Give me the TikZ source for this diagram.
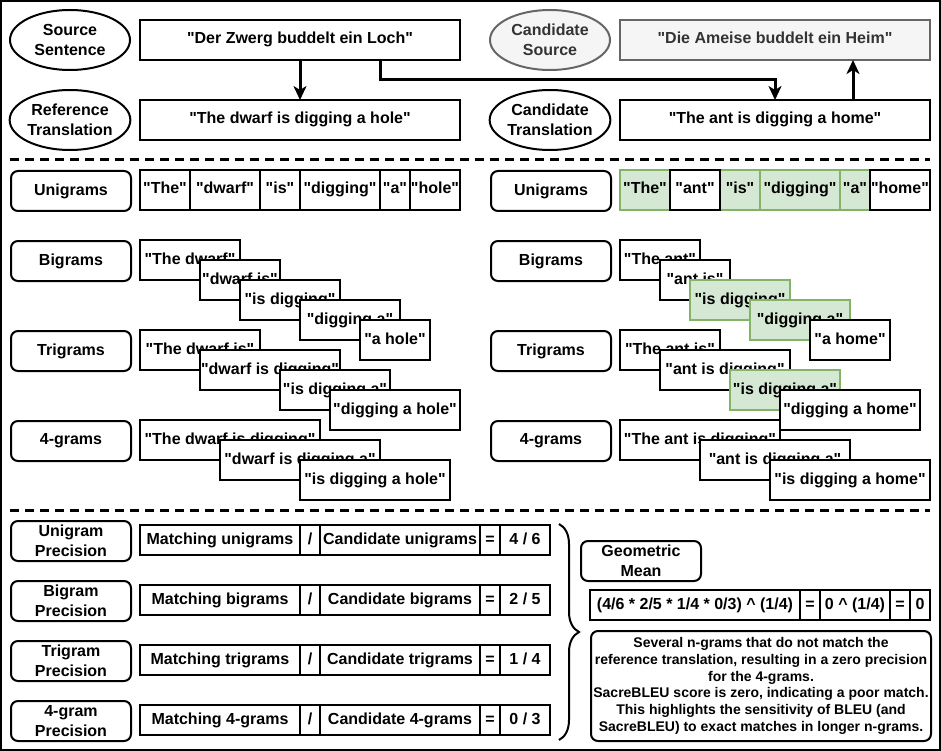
\documentclass[tikz,border=0pt]{standalone}
\usepackage{fontspec}
\setmainfont{Liberation Sans}[Ligatures=TeXOff]
\usetikzlibrary{arrows.meta,positioning,shapes.geometric,decorations.pathreplacing}
\definecolor{matchfill}{HTML}{D5E8D4}
\definecolor{matchdraw}{HTML}{82B366}
\definecolor{greyfill}{HTML}{F5F5F5}
\definecolor{greydraw}{HTML}{666666}
\definecolor{greytext}{HTML}{333333}
\tikzset{
txt/.style={font=\bfseries\fontsize{16}{19.5}\selectfont},
sentence/.style={txt,draw,ellipse,minimum width=120pt,minimum height=60pt,inner sep=0pt,align=center},
textbox/.style={txt,draw,fill=white,minimum height=40pt,inner sep=0pt,outer sep=0pt,anchor=north west,text height=11.5pt,text depth=3.5pt},
gram/.style={textbox},
match/.style={fill=matchfill,draw=matchdraw},
greyed/.style={fill=greyfill,draw=greydraw,text=greytext},
ngramlabel/.style={txt,draw,fill=white,rounded corners=7pt,minimum width=120pt,minimum height=40pt,inner sep=0pt,anchor=north west,align=center},
cell/.style={textbox,minimum height=30pt},
note/.style={draw,rounded corners=7pt,minimum width=340pt,minimum height=110pt,inner sep=0pt,anchor=north west,align=center,font=\bfseries\fontsize{14}{16.8}\selectfont},
flow/.style={-{Stealth[length=14pt,width=13pt,inset=4pt]},line width=3pt},
divider/.style={line width=3pt,dash pattern=on 9pt off 6pt}
}
\begin{document}
\begin{tikzpicture}[x=1pt,y=-1pt,line width=2pt]
\useasboundingbox (0,0) rectangle (941,751);
\draw (1,1) rectangle (940,750);

% sentences
\node[sentence] (srclabel) at (70,40) {Source\\Sentence};
\node[textbox,minimum width=320pt] (srcbox) at (140,20) {"Der Zwerg buddelt ein Loch"};
\node[sentence] (reflabel) at (70,120) {Reference\\Translation};
\node[textbox,minimum width=320pt] (refbox) at (140,100) {"The dwarf is digging a hole"};
\node[sentence,greyed] (candsrclabel) at (550,40) {Candidate\\Source};
\node[textbox,greyed,minimum width=310pt] (candsrcbox) at (620,20) {"Die Ameise buddelt ein Heim"};
\node[sentence] (candlabel) at (550,120) {Candidate\\Translation};
\node[textbox,minimum width=310pt] (candbox) at (620,100) {"The ant is digging a home"};
\draw[flow] (srcbox) -- (refbox);
\draw[flow] ([xshift=80pt]srcbox.south) -- ++(0,20) -| (candbox);
\draw[flow] ([xshift=78pt]candbox.north) -- ([xshift=78pt]candsrcbox.south);

\draw[divider] (10,160) -- (930,160);

% n-grams of the reference
\node[ngramlabel] (runi) at (10,170) {Unigrams};
\node[gram,minimum width=50pt] (ru1) at (140,170) {"The"};
\node[gram,minimum width=70pt] (ru2) at (190,170) {"dwarf"};
\node[gram,minimum width=40pt] (ru3) at (260,170) {"is"};
\node[gram,minimum width=80pt] (ru4) at (300,170) {"digging"};
\node[gram,minimum width=30pt] (ru5) at (380,170) {"a"};
\node[gram,minimum width=50pt] (ru6) at (410,170) {"hole"};

\node[ngramlabel] (rbig) at (10,240) {Bigrams};
\node[gram,minimum width=100pt] (rb1) at (140,240) {"The dwarf"};
\node[gram,minimum width=80pt] (rb2) at (200,260) {"dwarf is"};
\node[gram,minimum width=100pt] (rb3) at (240,280) {"is digging"};
\node[gram,minimum width=100pt] (rb4) at (300,300) {"digging a"};
\node[gram,minimum width=70pt] (rb5) at (360,320) {"a hole"};

\node[ngramlabel] (rtri) at (10,330) {Trigrams};
\node[gram,minimum width=120pt] (rt1) at (140,330) {"The dwarf is"};
\node[gram,minimum width=140pt] (rt2) at (200,350) {"dwarf is digging"};
\node[gram,minimum width=110pt] (rt3) at (280,370) {"is digging a"};
\node[gram,minimum width=130pt] (rt4) at (330,390) {"digging a hole"};

\node[ngramlabel] (rfour) at (10,420) {4-grams};
\node[gram,minimum width=180pt] (rq1) at (140,420) {"The dwarf is digging"};
\node[gram,minimum width=160pt] (rq2) at (220,440) {"dwarf is digging a"};
\node[gram,minimum width=150pt] (rq3) at (300,460) {"is digging a hole"};

% n-grams of the candidate
\node[ngramlabel] (cuni) at (490,170) {Unigrams};
\node[gram,match,minimum width=50pt] (cu1) at (620,170) {"The"};
\node[gram,match,minimum width=40pt] (cu3) at (720,170) {"is"};
\node[gram,match,minimum width=80pt] (cu4) at (760,170) {"digging"};
\node[gram,match,minimum width=30pt] (cu5) at (840,170) {"a"};
\node[gram,minimum width=50pt] (cu2) at (670,170) {"ant"};
\node[gram,minimum width=60pt] (cu6) at (870,170) {"home"};

\node[ngramlabel] (cbig) at (490,240) {Bigrams};
\node[gram,minimum width=80pt] (cb1) at (620,240) {"The ant"};
\node[gram,minimum width=70pt] (cb2) at (660,260) {"ant is"};
\node[gram,match,minimum width=100pt] (cb3) at (690,280) {"is digging"};
\node[gram,match,minimum width=100pt] (cb4) at (750,300) {"digging a"};
\node[gram,minimum width=80pt] (cb5) at (810,320) {"a home"};

\node[ngramlabel] (ctri) at (490,330) {Trigrams};
\node[gram,minimum width=100pt] (ct1) at (620,330) {"The ant is"};
\node[gram,minimum width=130pt] (ct2) at (660,350) {"ant is digging"};
\node[gram,match,minimum width=110pt] (ct3) at (730,370) {"is digging a"};
\node[gram,minimum width=140pt] (ct4) at (780,390) {"digging a home"};

\node[ngramlabel] (cfour) at (490,420) {4-grams};
\node[gram,minimum width=160pt] (cq1) at (620,420) {"The ant is digging"};
\node[gram,minimum width=150pt] (cq2) at (700,440) {"ant is digging a"};
\node[gram,minimum width=160pt] (cq3) at (770,460) {"is digging a home"};

\draw[divider] (10,510) -- (930,510);

% precisions
\node[ngramlabel] (unip) at (10,520) {Unigram\\Precision};
\node[cell,minimum width=160pt] (unimatch) at (140,525) {Matching unigrams};
\node[cell,minimum width=20pt,right=0pt of unimatch] (unidiv) {/};
\node[cell,minimum width=160pt,right=0pt of unidiv] (unicand) {Candidate unigrams};
\node[cell,minimum width=20pt,right=0pt of unicand] (unieq) {=};
\node[cell,minimum width=50pt,right=0pt of unieq] (unival) {4 / 6};

\node[ngramlabel] (bip) at (10,580) {Bigram\\Precision};
\node[cell,minimum width=160pt] (bimatch) at (140,585) {Matching bigrams};
\node[cell,minimum width=20pt,right=0pt of bimatch] (bidiv) {/};
\node[cell,minimum width=160pt,right=0pt of bidiv] (bicand) {Candidate bigrams};
\node[cell,minimum width=20pt,right=0pt of bicand] (bieq) {=};
\node[cell,minimum width=50pt,right=0pt of bieq] (bival) {2 / 5};

\node[ngramlabel] (trip) at (10,640) {Trigram\\Precision};
\node[cell,minimum width=160pt] (trimatch) at (140,645) {Matching trigrams};
\node[cell,minimum width=20pt,right=0pt of trimatch] (tridiv) {/};
\node[cell,minimum width=160pt,right=0pt of tridiv] (tricand) {Candidate trigrams};
\node[cell,minimum width=20pt,right=0pt of tricand] (trieq) {=};
\node[cell,minimum width=50pt,right=0pt of trieq] (trival) {1 / 4};

\node[ngramlabel] (fourp) at (10,700) {4-gram\\Precision};
\node[cell,minimum width=160pt] (fourmatch) at (140,705) {Matching 4-grams};
\node[cell,minimum width=20pt,right=0pt of fourmatch] (fourdiv) {/};
\node[cell,minimum width=160pt,right=0pt of fourdiv] (fourcand) {Candidate 4-grams};
\node[cell,minimum width=20pt,right=0pt of fourcand] (foureq) {=};
\node[cell,minimum width=50pt,right=0pt of foureq] (fourval) {0 / 3};

\coordinate (bracetop) at (559,524);
\coordinate (bracebot) at (559,740);
\draw[decorate,decoration={brace,amplitude=20pt}] (bracetop) -- (bracebot);

% geometric mean
\node[ngramlabel] (gmean) at (580,540) {Geometric\\Mean};
\node[cell,minimum width=210pt] (gmform) at (590,590) {(4/6 * 2/5 * 1/4 * 0/3) \^{} (1/4)};
\node[cell,minimum width=20pt,right=0pt of gmform] (gmeq1) {=};
\node[cell,minimum width=70pt,right=0pt of gmeq1] (gmpow) {0 \^{} (1/4)};
\node[cell,minimum width=20pt,right=0pt of gmpow] (gmeq2) {=};
\node[cell,minimum width=20pt,right=0pt of gmeq2] (gmval) {0};
\node[note] (summary) at (590,630) {Several n-grams that do not match the\\reference translation, resulting in a zero precision\\for the 4-grams.\\SacreBLEU score is zero, indicating a poor match.\\This highlights the sensitivity of BLEU (and\\SacreBLEU) to exact matches in longer n-grams.};
\end{tikzpicture}
\end{document}
